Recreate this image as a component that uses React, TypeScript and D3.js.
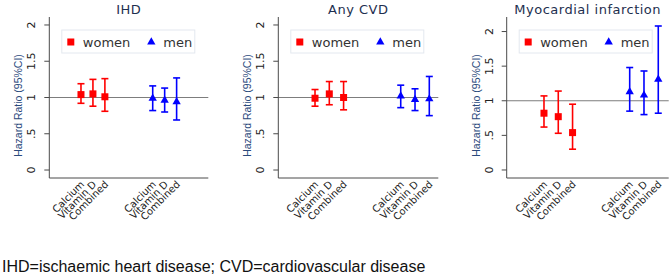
import React from "react";
import * as d3 from "d3";

// ---- data ----
const panelTitles = ["IHD", "Any CVD", "Myocardial infarction"];
const categories = ["Calcium", "Vitamin D", "Combined"];
const groupNames = ["women", "men"];
const yTickValues = [0, 0.5, 1, 1.5, 2];
const yTickLabels = ["0", ".5", "1", "1.5", "2"];

const ihdWomenHR = [1.04, 1.05, 1.01];
const ihdWomenLo = [0.92, 0.88, 0.81];
const ihdWomenHi = [1.19, 1.25, 1.26];
const ihdMenHR = [0.99, 0.96, 0.94];
const ihdMenLo = [0.82, 0.8, 0.69];
const ihdMenHi = [1.16, 1.13, 1.27];

const cvdWomenHR = [0.99, 1.05, 1.0];
const cvdWomenLo = [0.88, 0.9, 0.83];
const cvdWomenHi = [1.11, 1.22, 1.22];
const cvdMenHR = [1.02, 0.97, 0.98];
const cvdMenLo = [0.86, 0.82, 0.75];
const cvdMenHi = [1.17, 1.12, 1.29];

const miWomenHR = [0.82, 0.77, 0.54];
const miWomenLo = [0.62, 0.53, 0.3];
const miWomenHi = [1.07, 1.14, 0.95];
const miMenHR = [1.13, 1.08, 1.31];
const miMenLo = [0.85, 0.8, 0.82];
const miMenHi = [1.48, 1.43, 2.08];

const footnote = "IHD=ischaemic heart disease; CVD=cardiovascular disease";

// ---- layout ----
const W = 669;
const H = 277;
const plotTop = 17;
const plotBottom = 178;
const panelLayout = [
  { left: 49.3, width: 159, xDomain: [-1.65, 11.65], yDomain: [-0.11, 2.11] },
  { left: 278.3, width: 160, xDomain: [-1.57, 9.63], yDomain: [-0.11, 2.11] },
  { left: 506.7, width: 162, xDomain: [-1.61, 9.73], yDomain: [-0.116, 2.21] },
];
const panelData = [
  [
    { hr: ihdWomenHR, lo: ihdWomenLo, hi: ihdWomenHi },
    { hr: ihdMenHR, lo: ihdMenLo, hi: ihdMenHi },
  ],
  [
    { hr: cvdWomenHR, lo: cvdWomenLo, hi: cvdWomenHi },
    { hr: cvdMenHR, lo: cvdMenLo, hi: cvdMenHi },
  ],
  [
    { hr: miWomenHR, lo: miWomenLo, hi: miWomenHi },
    { hr: miMenHR, lo: miMenLo, hi: miMenHi },
  ],
];
const groupColors = ["#ff0000", "#0000ff"];
const groupOffset = [1, 7];
const titleColor = "#1e2f4f";
const axisColor = "#4a4a4a";
const sansV = "'DejaVu Sans', Verdana, sans-serif";
const sansA = "'Liberation Sans', Arial, sans-serif";

function Marker({ g, x, y }: { g: number; x: number; y: number }) {
  if (g === 0) {
    return <rect x={x - 3.5} y={y - 3.5} width={7} height={7} fill={groupColors[0]} />;
  }
  const tri = d3.symbol().type(d3.symbolTriangle).size(30)();
  return <path d={tri || ""} transform={`translate(${x},${y})`} fill={groupColors[1]} />;
}

function Panel({ idx }: { idx: number }) {
  const L = panelLayout[idx];
  const x = d3.scaleLinear().domain(L.xDomain).range([L.left, L.left + L.width]);
  const y = d3.scaleLinear().domain(L.yDomain).range([plotBottom, plotTop]);
  const cx = L.left + L.width / 2;
  const legX = L.left + 12.5;
  const legY = 30;
  return (
    <g>
      <text
        x={cx}
        y={13.5}
        textAnchor="middle"
        fontFamily={sansV}
        fontSize={13}
        letterSpacing={0.5}
        fill={titleColor}
      >
        {panelTitles[idx]}
      </text>
      {/* reference line */}
      <line x1={L.left} x2={L.left + L.width} y1={y(1)} y2={y(1)} stroke="#7d7d7d" strokeWidth={1.2} />
      {/* axes */}
      <line x1={L.left} x2={L.left} y1={plotTop} y2={plotBottom} stroke={axisColor} strokeWidth={1} />
      <line x1={L.left} x2={L.left + L.width} y1={plotBottom} y2={plotBottom} stroke={axisColor} strokeWidth={1} />
      {yTickValues.map((v, i) => (
        <g key={i}>
          <line x1={L.left - 5} x2={L.left} y1={y(v)} y2={y(v)} stroke={axisColor} strokeWidth={1} />
          <text
            transform={`translate(${L.left - 14},${y(v)}) rotate(-90)`}
            textAnchor="middle"
            fontFamily={sansV}
            fontSize={11}
            fill="#222"
          >
            {yTickLabels[i]}
          </text>
        </g>
      ))}
      <text
        transform={`translate(${L.left - 27},${(plotTop + plotBottom) / 2 + 8}) rotate(-90)`}
        textAnchor="middle"
        fontFamily={sansA}
        fontSize={10.5}
        fill="#2b4a7c"
      >
        Hazard Ratio (95%CI)
      </text>
      {/* x labels */}
      {groupNames.map((gn, g) =>
        categories.map((c, i) => (
          <text
            key={gn + c}
            transform={`translate(${x(i + groupOffset[g]) + 4},${plotBottom + 7}) rotate(-45)`}
            textAnchor="end"
            fontFamily={sansV}
            fontSize={10}
            fill="#222"
          >
            {c}
          </text>
        ))
      )}
      {/* error bars */}
      {panelData[idx].map((s, g) =>
        s.hr.map((v, i) => {
          const px = x(i + groupOffset[g]);
          const col = groupColors[g];
          return (
            <g key={`${g}-${i}`}>
              <line x1={px} x2={px} y1={y(s.lo[i])} y2={y(s.hi[i])} stroke={col} strokeWidth={1.6} />
              <line x1={px - 3.5} x2={px + 3.5} y1={y(s.lo[i])} y2={y(s.lo[i])} stroke={col} strokeWidth={1.6} />
              <line x1={px - 3.5} x2={px + 3.5} y1={y(s.hi[i])} y2={y(s.hi[i])} stroke={col} strokeWidth={1.6} />
              <Marker g={g} x={px} y={y(v)} />
            </g>
          );
        })
      )}
      {/* legend */}
      <rect x={legX} y={legY} width={133} height={23} fill="#fff" stroke="#e3e8ef" strokeWidth={1} />
      <Marker g={0} x={legX + 9} y={legY + 12} />
      <text x={legX + 21} y={legY + 16.5} fontFamily={sansV} fontSize={13} fill="#333">
        {groupNames[0]}
      </text>
      <Marker g={1} x={legX + 89.5} y={legY + 12} />
      <text x={legX + 101.5} y={legY + 16.5} fontFamily={sansV} fontSize={13} fill="#333">
        {groupNames[1]}
      </text>
    </g>
  );
}

export default function App() {
  return (
    <svg
      width={W}
      height={H}
      viewBox={`0 0 ${W} ${H}`}
      style={{ position: "absolute", left: 0, top: 0, background: "#fff" }}
    >
      <rect width={W} height={H} fill="#fff" />
      {panelTitles.map((_, i) => (
        <Panel key={i} idx={i} />
      ))}
      <text x={2} y={272} fontFamily={sansA} fontSize={16} fill="#111">
        {footnote}
      </text>
    </svg>
  );
}
